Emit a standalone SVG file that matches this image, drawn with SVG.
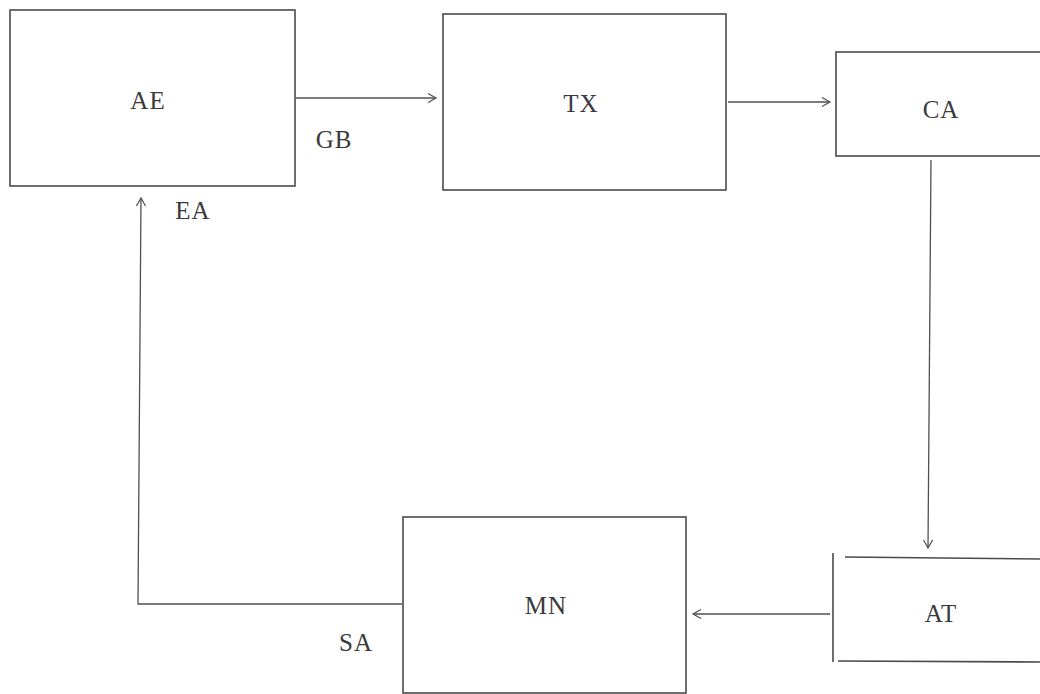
<svg xmlns="http://www.w3.org/2000/svg" width="1040" height="694" viewBox="0 0 1040 694">
<style>
.box{fill:none;stroke:#4a4a4a;stroke-width:1.6}
.lbl{font-family:"Liberation Serif","Times New Roman",serif;font-size:25px;fill:#3a3a3a;text-anchor:middle;letter-spacing:1px}
.edge{fill:none;stroke:#505050;stroke-width:1.3}
</style>
<defs>
<marker id="arr" markerWidth="12" markerHeight="12" refX="9" refY="5" orient="auto" markerUnits="userSpaceOnUse">
<path d="M1,0.5 L9,5 L1,9.5" fill="none" stroke="#505050" stroke-width="1.2"/>
</marker>
</defs>
<rect width="1040" height="694" fill="#ffffff"/>
<g id="AE"><rect class="box" x="10" y="10" width="285" height="176"/><text class="lbl" x="148" y="109">AE</text></g>
<g id="TX"><rect class="box" x="443" y="14" width="283" height="176"/><text class="lbl" x="581" y="112">TX</text></g>
<g id="CA"><rect class="box" x="836" y="52" width="210" height="104"/><text class="lbl" x="941" y="118">CA</text></g>
<g id="AT"><path class="box" d="M845,557 L1040,559 M833,553 L833,662 M838,661 L1040,662"/><text class="lbl" x="941" y="622">AT</text></g>
<g id="MN"><rect class="box" x="403" y="517" width="283" height="176"/><text class="lbl" x="546" y="614">MN</text></g>
<g id="connectors">
<path class="edge" d="M296,98 L436,98" marker-end="url(#arr)"/>
<path class="edge" d="M728,102 L830,102" marker-end="url(#arr)"/>
<path class="edge" d="M931,160 L928,548" marker-end="url(#arr)"/>
<path class="edge" d="M830,614 L693,614" marker-end="url(#arr)"/>
<path class="edge" d="M402,604 L138,604 L141,198" marker-end="url(#arr)"/>
<text class="lbl" x="334" y="148">GB</text>
<text class="lbl" x="193" y="219">EA</text>
<text class="lbl" x="356" y="651">SA</text>
</g>
</svg>
